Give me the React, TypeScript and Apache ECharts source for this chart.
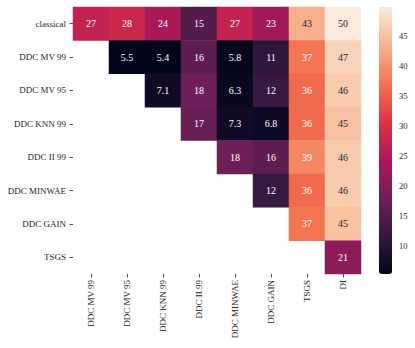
import React, { useEffect, useRef } from "react";
import * as echarts from "echarts";

const rowLabels = ["classical", "DDC MV 99", "DDC MV 95", "DDC KNN 99", "DDC II 99", "DDC MINWAE", "DDC GAIN", "TSGS"];
const colLabels = ["DDC MV 99", "DDC MV 95", "DDC KNN 99", "DDC II 99", "DDC MINWAE", "DDC GAIN", "TSGS", "DI"];

const rowClassical = [27, 28, 24, 15, 27, 23, 43, 49.8];
const rowMV99 = [null, 5.5, 5.4, 16, 5.8, 11, 37, 47];
const rowMV95 = [null, null, 7.1, 18, 6.3, 12, 36, 46];
const rowKNN99 = [null, null, null, 17, 7.3, 6.8, 36, 45];
const rowII99 = [null, null, null, null, 18, 16, 39, 46];
const rowMINWAE = [null, null, null, null, null, 12, 36, 46];
const rowGAIN = [null, null, null, null, null, null, 37, 45];
const rowTSGS = [null, null, null, null, null, null, null, 21];

const matrix = [rowClassical, rowMV99, rowMV95, rowKNN99, rowII99, rowMINWAE, rowGAIN, rowTSGS];

const colorbarTicks = [10, 15, 20, 25, 30, 35, 40, 45];
const rocket = ["#03051a", "#35193e", "#701f57", "#ad1759", "#e13342", "#f37651", "#f6b48f", "#faebdd"];

const FONT = "'Liberation Serif', 'DejaVu Serif', serif";
const TEXT = "#262626";

export default function App() {
  const ref = useRef<HTMLDivElement>(null);
  useEffect(() => {
    document.body.style.margin = "0";
    if (!ref.current) return;
    const chart = echarts.init(ref.current, null, { renderer: "svg" });
    const all: number[] = [];
    matrix.forEach((r) => r.forEach((v) => { if (v != null) all.push(v as number); }));
    const vmin = Math.min(...all);
    const vmax = Math.max(...all);
    const data: any[] = [];
    matrix.forEach((r, ri) =>
      r.forEach((v, ci) => {
        if (v == null) return;
        data.push({
          value: [ci, ri, v],
          label: { color: (v as number) > 40 ? TEXT : "#ffffff" },
        });
      })
    );
    chart.setOption({
      animation: false,
      textStyle: { fontFamily: FONT },
      grid: [
        { left: 73, top: 7, width: 288, height: 267 },
        { left: 379, top: 7, width: 13, height: 267 },
      ],
      xAxis: [
        {
          type: "category",
          data: colLabels,
          gridIndex: 0,
          position: "bottom",
          axisLine: { show: false },
          axisTick: { show: true, length: 3.5, alignWithLabel: true, lineStyle: { color: TEXT, width: 0.8 } },
          axisLabel: { rotate: 90, margin: 6, fontFamily: FONT, fontSize: 9, color: TEXT, interval: 0 },
          splitArea: { show: false },
        },
        { type: "value", gridIndex: 1, show: false, min: 0, max: 1 },
      ],
      yAxis: [
        {
          type: "category",
          data: rowLabels,
          inverse: true,
          gridIndex: 0,
          axisLine: { show: false },
          axisTick: { show: true, length: 3.5, alignWithLabel: true, lineStyle: { color: TEXT, width: 0.8 } },
          axisLabel: { margin: 7, fontFamily: FONT, fontSize: 9, color: TEXT, interval: 0 },
          splitArea: { show: false },
        },
        {
          type: "value",
          gridIndex: 1,
          position: "right",
          min: vmin,
          max: vmax,
          axisLine: { show: false },
          splitLine: { show: false },
          axisTick: { show: true, length: 3.5, customValues: colorbarTicks, lineStyle: { color: TEXT, width: 0.8 } },
          axisLabel: { margin: 7, fontFamily: FONT, fontSize: 8.5, color: TEXT, customValues: colorbarTicks },
        },
      ],
      visualMap: {
        type: "continuous",
        min: vmin,
        max: vmax,
        seriesIndex: 0,
        calculable: false,
        hoverLink: false,
        left: 379,
        top: 7,
        padding: 0,
        itemWidth: 13,
        itemHeight: 267,
        text: null,
        showLabel: false,
        inRange: { color: rocket },
      },
      series: [
        {
          type: "heatmap",
          xAxisIndex: 0,
          yAxisIndex: 0,
          data,
          label: {
            show: true,
            fontFamily: FONT,
            fontSize: 10,
            formatter: (p: any) => Number(p.value[2]).toPrecision(2),
          },
          emphasis: { disabled: true },
        },
      ],
    });
    return () => chart.dispose();
  }, []);
  return <div ref={ref} style={{ width: 415, height: 348 }} />;
}
